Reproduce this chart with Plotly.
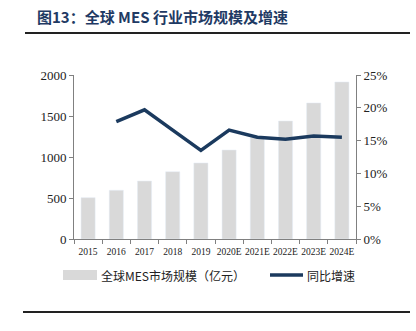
import plotly.graph_objects as go

years = ["2015", "2016", "2017", "2018", "2019", "2020E", "2021E", "2022E", "2023E", "2024E"]
market_size = [504, 594, 707, 821, 927, 1085, 1235, 1439, 1659, 1915]
growth_years = ["2016", "2017", "2018", "2019", "2020E", "2021E", "2022E", "2023E", "2024E"]
growth_pct = [17.9, 19.7, 16.6, 13.5, 16.6, 15.5, 15.2, 15.7, 15.5]
left_ticks = [0, 500, 1000, 1500, 2000]
right_ticks = [0, 5, 10, 15, 20, 25]

BAR = "#D9D9D9"
LINE = "#1B3A5E"
SERIF = "Liberation Serif"
CJK = "Noto Sans CJK SC"

fig = go.Figure()
fig.add_trace(go.Bar(x=years, y=market_size, marker_color=BAR, width=0.5,
                     name="全球MES市场规模（亿元）", showlegend=False))
fig.add_trace(go.Scatter(x=growth_years, y=growth_pct, yaxis="y2", mode="lines",
                         line=dict(color=LINE, width=3.5), name="同比增速", showlegend=False))

fig.update_layout(
    width=416, height=331,
    margin=dict(l=74, r=60, t=75, b=92),
    paper_bgcolor="white", plot_bgcolor="white",
    xaxis=dict(type="category", showline=True, linecolor="#808080", linewidth=1,
               ticks="outside", ticklen=4, tickcolor="#808080", tickson="boundaries",
               tickangle=0, ticklabelstandoff=4,
               tickfont=dict(family=SERIF, size=9.5, color="#222"), showgrid=False,
               range=[-0.5, 9.5]),
    yaxis=dict(range=[0, 2000], tickvals=left_ticks, showline=True, linecolor="#808080",
               ticks="outside", ticklen=4, tickcolor="#808080", showgrid=False, zeroline=False,
               tickfont=dict(family=SERIF, size=13, color="#222")),
    yaxis2=dict(range=[0, 25], tickvals=right_ticks, ticktext=[f"{v}%" for v in right_ticks],
                overlaying="y", side="right", showline=True, linecolor="#808080",
                ticks="outside", ticklen=4, tickcolor="#808080", showgrid=False, zeroline=False,
                tickfont=dict(family=SERIF, size=13, color="#222")),
    font=dict(family=CJK),
)

# title
fig.add_annotation(text="<b>图13：全球 MES 行业市场规模及增速</b>", xref="paper", yref="paper",
                   x=(35 - 74) / 282, y=(331 - 92 - 17) / 164, xanchor="left", yanchor="middle",
                   showarrow=False, font=dict(family=CJK, size=15, color="#1F3A64"))
# rules
fig.add_shape(type="line", xref="paper", yref="paper",
              x0=(25 - 74) / 282, x1=(410 - 74) / 282,
              y0=(239 - 33) / 164, y1=(239 - 33) / 164,
              line=dict(color="#222", width=2))
fig.add_shape(type="line", xref="paper", yref="paper",
              x0=(23 - 74) / 282, x1=(410 - 74) / 282,
              y0=(239 - 312) / 164, y1=(239 - 312) / 164,
              line=dict(color="#222", width=2))
# legend
ly = (239 - 275) / 164
fig.add_shape(type="rect", xref="paper", yref="paper",
              x0=(63 - 74) / 282, x1=(97 - 74) / 282,
              y0=(239 - 280) / 164, y1=(239 - 270) / 164,
              fillcolor=BAR, line=dict(width=0))
fig.add_annotation(text="全球MES市场规模（亿元）", xref="paper", yref="paper",
                   x=(99 - 74) / 282, y=ly, xanchor="left", yanchor="middle", showarrow=False,
                   font=dict(family=CJK, size=12, color="#222"))
fig.add_shape(type="line", xref="paper", yref="paper",
              x0=(270 - 74) / 282, x1=(303 - 74) / 282, y0=ly, y1=ly,
              line=dict(color=LINE, width=3.5))
fig.add_annotation(text="同比增速", xref="paper", yref="paper",
                   x=(305 - 74) / 282, y=ly, xanchor="left", yanchor="middle", showarrow=False,
                   font=dict(family=CJK, size=12, color="#222"))

fig.write_html("out.html")
